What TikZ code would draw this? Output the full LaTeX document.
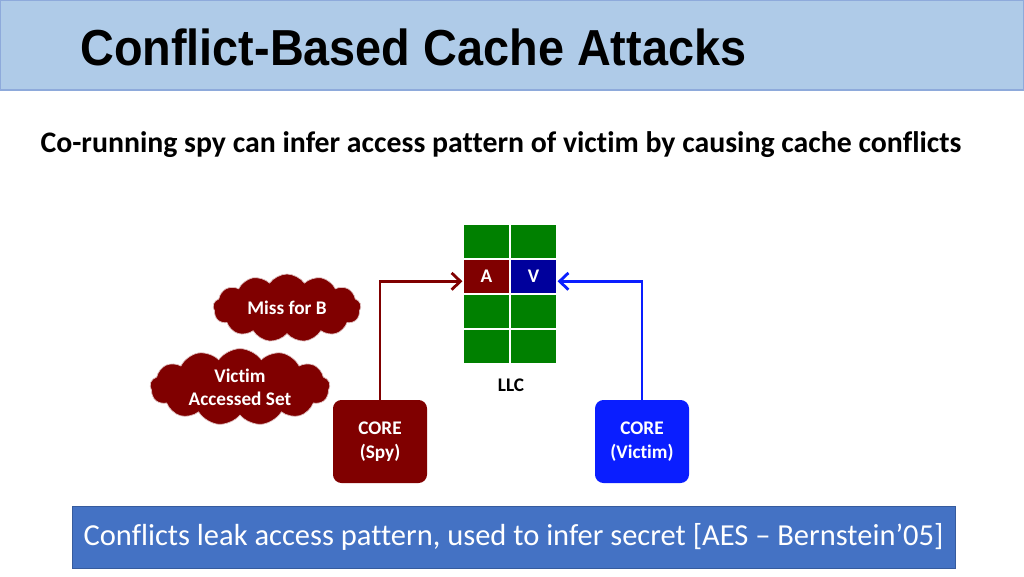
\documentclass[tikz,border=0pt]{standalone}
\usepackage{fontspec}
\setmainfont[Ligatures=CommonOff]{Carlito}
\newfontfamily\titlefont{Liberation Sans}
\usetikzlibrary{arrows.meta,positioning,shapes.symbols}
\definecolor{titlebg}{HTML}{AFCBE8}
\definecolor{titleedge}{HTML}{8EAADB}
\definecolor{spyred}{HTML}{800000}
\definecolor{vicdark}{HTML}{00009C}
\definecolor{vicblue}{HTML}{0A1EFF}
\definecolor{cellgreen}{HTML}{008000}
\definecolor{bannerblue}{HTML}{4472C4}

\begin{document}
\begin{tikzpicture}[x=0.25mm, y=-0.25mm,
  cell/.style={draw=white, line width=0.8pt, fill=cellgreen, minimum width=11.75mm, minimum height=8.75mm, inner sep=0pt, text=white, font=\fontsize{13.7}{15}\selectfont\bfseries},
  core/.style={rounded corners=6pt, minimum width=23.5mm, minimum height=20.75mm, align=center, text=white, font=\fontsize{13.7}{17}\selectfont\bfseries},
  blob/.style={cloud, cloud puffs=13, cloud puff arc=110, aspect=2.4, fill=spyred, draw=white!75!spyred, line width=0.5pt, align=center, text=white, font=\fontsize{13.7}{16.5}\selectfont\bfseries, inner sep=0pt},
  arr/.style={-{Straight Barb[length=2.2mm, width=4.2mm]}, line width=2pt}]
\useasboundingbox (0,0) rectangle (1024,576);
% title bar
\fill[titlebg, draw=titleedge, line width=0.8pt] (0,0) rectangle (1024,90);
\node[anchor=west, inner sep=0pt, font=\titlefont\fontsize{36}{40}\selectfont\bfseries, xscale=0.925, transform shape] (title) at (80,47) {Conflict-Based Cache Attacks};
\node[font=\fontsize{21.2}{24}\selectfont\bfseries] (sub) at (501,145) {Co-running spy can infer access pattern of victim by causing cache conflicts};
% LLC
\node[cell] (c11) at (486.5,241.5) {};
\node[cell] (c12) at (533.5,241.5) {};
\node[cell, fill=spyred] (a) at (486.5,276.5) {A};
\node[cell, fill=vicdark] (v) at (533.5,276.5) {V};
\node[cell] (c31) at (486.5,311.5) {};
\node[cell] (c32) at (533.5,311.5) {};
\node[cell] (c41) at (486.5,346.5) {};
\node[cell] (c42) at (533.5,346.5) {};
\node[font=\fontsize{13.7}{15}\selectfont\bfseries] (llc) at (511,385) {LLC};
% clouds
\node[blob, minimum width=37mm, minimum height=17mm] (miss) at (287,308) {Miss for B};
\node[blob, minimum width=45mm, minimum height=16.5mm] (vset) at (240,387) {Victim\\Accessed Set};
% cores
\node[core, fill=spyred] (spy) at (380,441.5) {CORE\\(Spy)};
\node[core, fill=vicblue] (vic) at (642,441.5) {CORE\\(Victim)};
\draw[arr, spyred] (spy.north) |- ([yshift=-1.2mm]a.west);
\draw[arr, vicblue] (vic.north) |- ([yshift=-1.2mm]v.east);
% banner
\node[fill=bannerblue, draw=bannerblue!80!black, line width=0.4pt, minimum width=220.75mm, minimum height=15.5mm, text=white, font=\fontsize{21.7}{24}\selectfont] (msg) at (513.5,537) {Conflicts leak access pattern, used to infer secret [AES -- Bernstein’05]};
\end{tikzpicture}
\end{document}
